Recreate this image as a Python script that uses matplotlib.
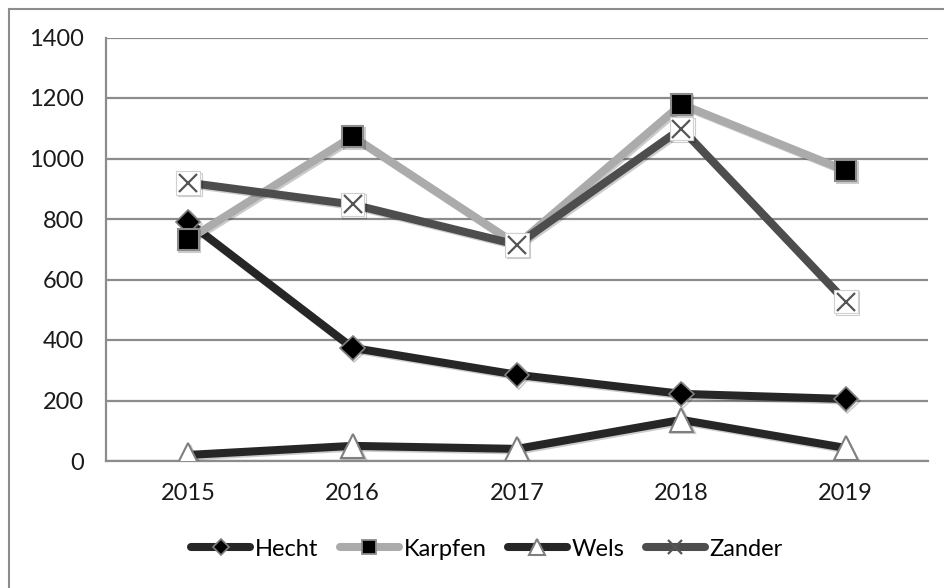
import matplotlib
matplotlib.use("Agg")
import matplotlib.pyplot as plt
from matplotlib.lines import Line2D
import matplotlib.patheffects as pe

years = ["2015", "2016", "2017", "2018", "2019"]
hecht = [790, 374, 285, 222, 205]
karpfen = [732, 1073, 715, 1179, 960]
wels = [20, 50, 40, 136, 43]
zander = [920, 848, 715, 1099, 527]
yticks = [0, 200, 400, 600, 800, 1000, 1200, 1400]
names = ["Hecht", "Karpfen", "Wels", "Zander"]

plt.rcParams['font.family'] = ['Lato', 'DejaVu Sans']

W, H = 945, 588
fig = plt.figure(figsize=(W/100, H/100), dpi=100)
ax = fig.add_axes([106/W, 1 - 461/H, (928-106)/W, (461-37.5)/H])

x = list(range(len(years)))
shadow = [pe.SimpleLineShadow(offset=(1.2, -1.2), alpha=0.2, shadow_color='k'), pe.Normal()]
lw = 5.8

styles = [
    dict(color='#262626', marker='D', ms=12.5, mfc='black', mec='#7f7f7f', mew=1.2),
    dict(color='#ababab', marker='s', ms=15, mfc='black', mec='#8c8c8c', mew=1.5),
    dict(color='#262626', marker='^', ms=17, mfc='white', mec='#7f7f7f', mew=1.5),
    dict(color='#4d4d4d', marker='s', ms=17, mfc='white', mec='#d0d0d0', mew=0.8),
]
series = [hecht, karpfen, wels, zander]
for i, (vals, st) in enumerate(zip(series, styles)):
    ax.plot(x, vals, lw=lw, zorder=3 + i, path_effects=shadow,
            solid_joinstyle='round', **st)
ax.plot(x, zander, ls='none', marker='x', ms=13, mec='#555555', mew=1.6, zorder=8)

ax.set_xlim(-0.5, len(years) - 0.5)
ax.set_ylim(0, 1400)
ax.set_yticks(yticks)
ax.set_xticks(x)
ax.set_xticklabels(years)
ax.tick_params(axis='both', length=0, labelsize=17, colors='#1a1a1a')
ax.tick_params(axis='x', pad=16)
ax.tick_params(axis='y', pad=16)
ax.grid(axis='y', color='#8c8c8c', lw=1.6, zorder=0)
ax.set_axisbelow(True)
for s in ['top', 'right']:
    ax.spines[s].set_visible(False)
for s in ['left', 'bottom']:
    ax.spines[s].set_color('#8c8c8c')
    ax.spines[s].set_linewidth(1.6)

leg_handles = [
    Line2D([], [], color='#262626', lw=lw, solid_capstyle='round', marker='D', ms=8,
           mfc='black', mec='#7f7f7f', mew=1.2),
    Line2D([], [], color='#ababab', lw=lw, solid_capstyle='round', marker='s', ms=9.5,
           mfc='black', mec='#8c8c8c', mew=1.3),
    Line2D([], [], color='#262626', lw=lw, solid_capstyle='round', marker='^', ms=11,
           mfc='white', mec='#7f7f7f', mew=1.5),
    Line2D([], [], color='#4d4d4d', lw=lw, solid_capstyle='round', marker='x', ms=10,
           mec='#555555', mew=1.6),
]
leg = fig.legend(leg_handles, names, loc='center',
                 bbox_to_anchor=(487/W, 1 - 549/H), ncol=4, frameon=False,
                 fontsize=17, handlelength=2.5, handletextpad=0.2,
                 columnspacing=0.9)

# outer border (left and top visible)
fig.add_artist(Line2D([9/W, 9/W], [0, 1 - 9/H], color='#8c8c8c', lw=1.5))
fig.add_artist(Line2D([9/W, 1], [1 - 9/H, 1 - 9/H], color='#8c8c8c', lw=1.5))

fig.savefig('out.png', dpi=100)
